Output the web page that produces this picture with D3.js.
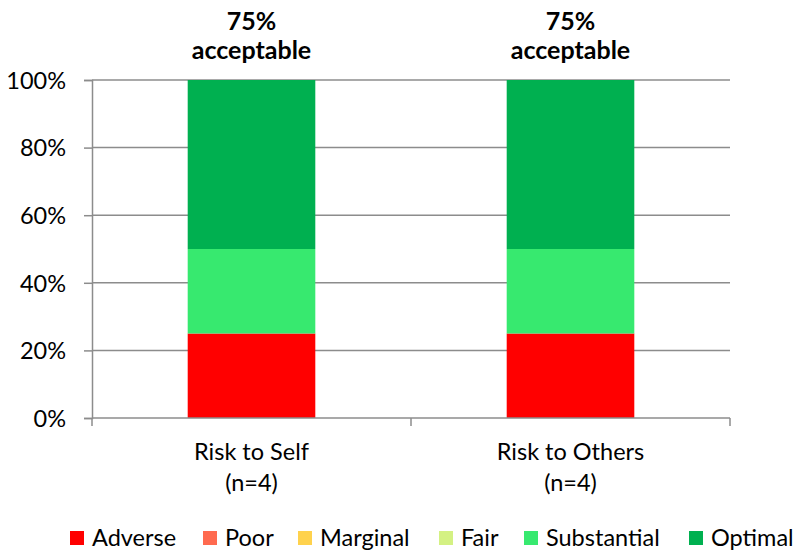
<!DOCTYPE html>
<html>
<head>
<meta charset="utf-8">
<script src="https://cdn.jsdelivr.net/npm/d3@7"></script>
<style>
  body { margin: 0; background: #fff; }
  svg text { font-family: Lato, "Open Sans", sans-serif; fill: #000; }
</style>
</head>
<body>
<svg width="798" height="552"></svg>
<script>
// data
const categories = ['Risk to Self', 'Risk to Others'];
const sampleSizes = ['(n=4)', '(n=4)'];
const acceptable = ['75%', '75%'];
const levels = ['Adverse', 'Poor', 'Marginal', 'Fair', 'Substantial', 'Optimal'];
const levelColors = ['#ff0000', '#ff6a4f', '#ffd24d', '#d4f183', '#37e96f', '#00b050'];
const adverse = [25, 25];
const poor = [0, 0];
const marginal = [0, 0];
const fair = [0, 0];
const substantial = [25, 25];
const optimal = [50, 50];
const yTicks = [0, 20, 40, 60, 80, 100];

const series = [adverse, poor, marginal, fair, substantial, optimal];
const rows = categories.map((c, i) => {
  const r = { cat: c };
  levels.forEach((l, j) => r[l] = series[j][i]);
  return r;
});

const svg = d3.select('svg');
const plotL = 92, plotR = 730, plotT = 80, plotB = 418;
const fs = 23.5;

const x = d3.scaleBand().domain(categories).range([plotL, plotR]).paddingInner(0.6).paddingOuter(0.3);
const xOuter = d3.scaleBand().domain(categories).range([plotL, plotR]);
const y = d3.scaleLinear().domain([0, 100]).range([plotB, plotT]);

const axisColor = '#8c8c8c';

// gridlines
svg.append('g')
  .selectAll('line')
  .data(yTicks.filter(d => d > 0))
  .enter()
  .append('line')
  .attr('x1', plotL).attr('x2', plotR)
  .attr('y1', d => y(d)).attr('y2', d => y(d))
  .attr('stroke', axisColor).attr('stroke-width', 1.5);

// bars
const stack = d3.stack().keys(levels)(rows);
svg.append('g')
  .selectAll('g')
  .data(stack)
  .enter()
  .append('g')
  .attr('fill', (d, i) => levelColors[i])
  .selectAll('rect')
  .data(d => d)
  .enter()
  .append('rect')
  .attr('x', d => x(d.data.cat))
  .attr('width', x.bandwidth())
  .attr('y', d => y(d[1]))
  .attr('height', d => y(d[0]) - y(d[1]));

// y axis
const yAxis = svg.append('g')
  .attr('transform', `translate(${plotL},0)`)
  .call(d3.axisLeft(y).tickValues(yTicks).tickFormat(d => d + '%').tickSize(8).tickPadding(18));
yAxis.select('.domain').attr('stroke', axisColor).attr('stroke-width', 1.5);
yAxis.selectAll('.tick line').attr('stroke', axisColor).attr('stroke-width', 1.5);
yAxis.selectAll('.tick text').attr('font-size', fs).attr('dy', '0.35em').attr('fill', '#000');

// x axis
const xa = svg.append('g');
xa.append('line')
  .attr('x1', plotL).attr('x2', plotR)
  .attr('y1', plotB).attr('y2', plotB)
  .attr('stroke', axisColor).attr('stroke-width', 1.5);
const xTickPos = [plotL].concat(categories.map(c => xOuter(c) + xOuter.bandwidth()));
xa.selectAll('.xt')
  .data(xTickPos)
  .enter()
  .append('line')
  .attr('x1', d => d).attr('x2', d => d)
  .attr('y1', plotB).attr('y2', plotB + 8)
  .attr('stroke', axisColor).attr('stroke-width', 1.5);

const cx = c => x(c) + x.bandwidth() / 2;

svg.append('g')
  .selectAll('text')
  .data(categories)
  .enter()
  .append('text')
  .attr('x', cx)
  .attr('y', 460)
  .attr('text-anchor', 'middle')
  .attr('font-size', fs)
  .text(d => d);

svg.append('g')
  .selectAll('text')
  .data(categories)
  .enter()
  .append('text')
  .attr('x', cx)
  .attr('y', 491)
  .attr('text-anchor', 'middle')
  .attr('font-size', fs)
  .text((d, i) => sampleSizes[i]);

// acceptable labels
const topLab = svg.append('g')
  .selectAll('text')
  .data(categories)
  .enter()
  .append('text')
  .attr('text-anchor', 'middle')
  .attr('font-size', 25)
  .attr('font-weight', 'bold');
topLab.append('tspan').attr('x', cx).attr('y', 30).text((d, i) => acceptable[i]);
topLab.append('tspan').attr('x', cx).attr('y', 59).text('acceptable');

// legend
const legendX = [70, 203, 298, 439, 524, 689];
const lg = svg.append('g')
  .selectAll('g')
  .data(levels)
  .enter()
  .append('g')
  .attr('transform', (d, i) => `translate(${legendX[i]},531)`);
lg.append('rect').attr('width', 14).attr('height', 14).attr('fill', (d, i) => levelColors[i]);
lg.append('text').attr('x', 22).attr('y', 15).attr('font-size', fs).text(d => d);
</script>
</body>
</html>
